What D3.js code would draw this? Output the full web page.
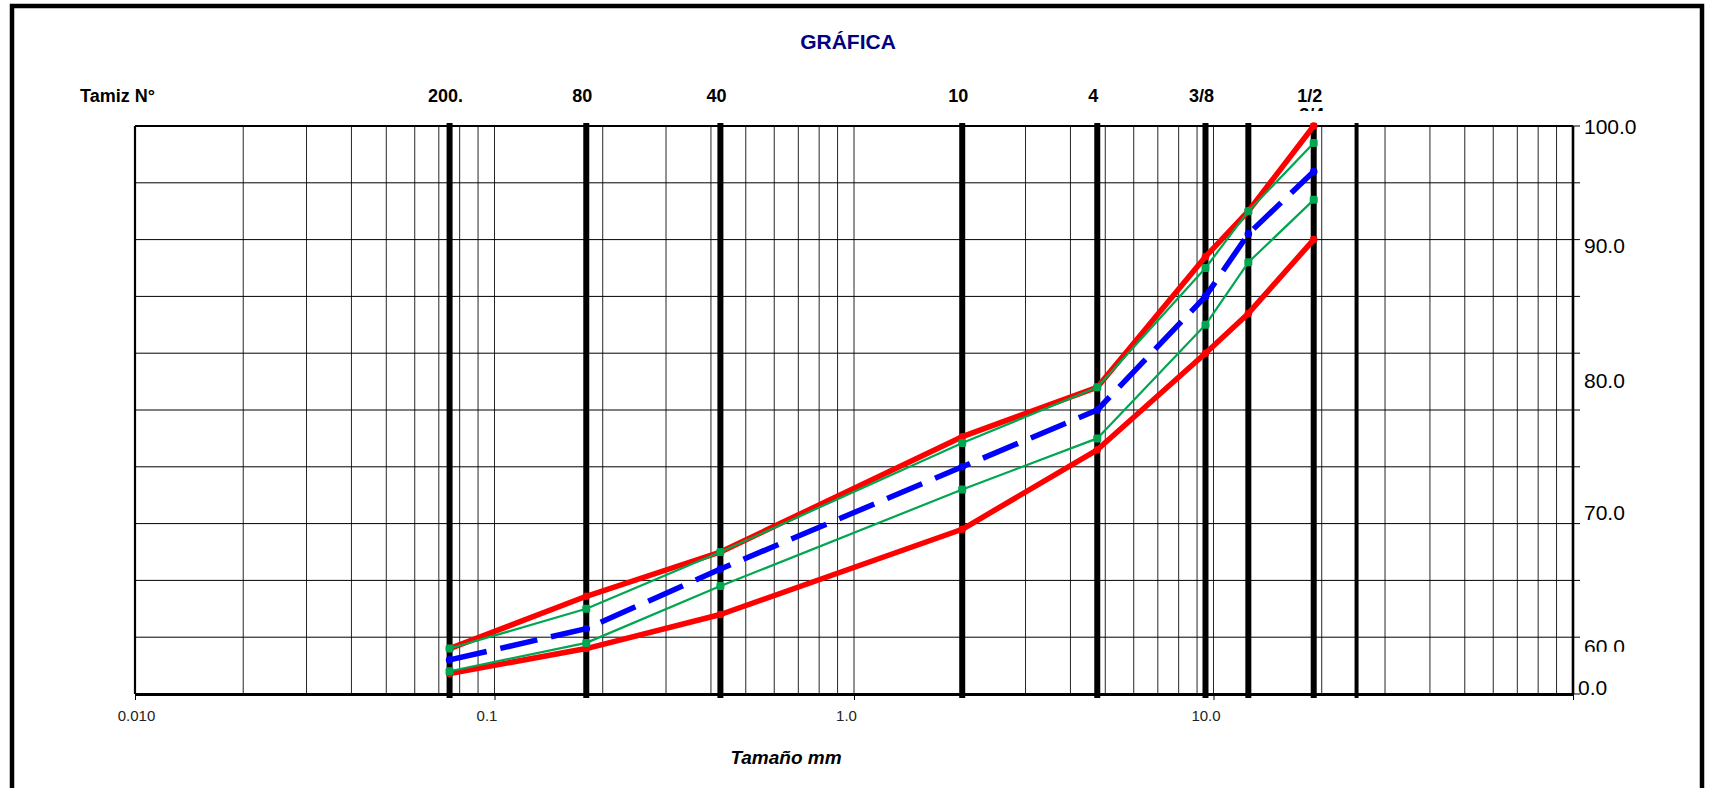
<!DOCTYPE html>
<html>
<head>
<meta charset="utf-8">
<script src="https://cdn.jsdelivr.net/npm/d3@7"></script>
<style>
  html, body { margin: 0; padding: 0; background: #fff; }
  svg { display: block; }
  text { font-family: Arial, "Liberation Sans", sans-serif; }
</style>
</head>
<body>
<svg id="chart" width="1713" height="788"></svg>
<script>
// ---------------- DATA ----------------
const titleText = "GRÁFICA";
const sieveHeader = "Tamiz N°";
const xAxisTitle = "Tamaño mm";

// sieve opening sizes (mm) drawn as heavy vertical lines
const sieveSizes = [0.075, 0.18, 0.425, 2.0, 4.75, 9.5, 12.5, 19.0, 25.0];
// sieve labels along the top and the size each is written over
const sieveLabels = ["200.", "80", "40", "10", "4", "3/8", "1/2"];
const sieveLabelSizes = [0.075, 0.18, 0.425, 2.0, 4.75, 9.5, 19.0];
const hiddenLabel = "3/4";
const hiddenLabelSize = 19.0;

// grading sizes (mm) of every series
const gradSizes = [0.075, 0.18, 0.425, 2.0, 4.75, 9.5, 12.5, 19.0];
const redUpper   = [8, 17.2, 25, 45.3, 54, 77, 85, 100];
const greenUpper = [8, 15, 25, 44.2, 54, 75, 85, 97];
const blueSample = [6, 11.5, 22, 40, 50, 70, 81, 92];
const greenLower = [4, 9, 19, 36, 45, 65, 76, 87];
const redLower   = [3.6, 8, 14, 29, 43, 60, 67, 80];

// bottom axis ticks
const xTickValues = [0.01, 0.1, 1, 10, 100];
const xTickLabels = ["0.010", "0.1", "1.0", "10.0", ""];
// right side labels (as printed) and the level where each one sits
const rightLabels = ["100.0", "90.0", "80.0", "70.0", "60.0", "0.0"];
const rightLabelLevels = [100, 78.9, 55.15, 31.9, 8.45, 1.1];
const yGridValues = d3.range(0, 101, 10);

// ---------------- LAYOUT ----------------
const L = 135, R = 1573, T = 126, B = 694;
const svg = d3.select("#chart");
const x = d3.scaleLog().domain([0.01, 100]).range([L, R]);
const y = d3.scaleLinear().domain([0, 100]).range([B, T]);

const defs = svg.append("defs");
defs.append("clipPath").attr("id", "rclip")
  .selectAll("rect").data([[0, 651.7], [676, 788]]).join("rect")
  .attr("x", 1500).attr("width", 213)
  .attr("y", d => d[0]).attr("height", d => d[1] - d[0]);
defs.append("clipPath").attr("id", "hclip")
  .append("rect").attr("x", 1250).attr("y", 104).attr("width", 120).attr("height", 7);

// outer frame
svg.append("rect").attr("x", 12).attr("y", 6).attr("width", 1690).attr("height", 900)
  .attr("fill", "none").attr("stroke", "#000").attr("stroke-width", 4.5);

// title
svg.append("text").attr("x", 848).attr("y", 48.5).attr("text-anchor", "middle")
  .attr("font-size", 21).attr("font-weight", "bold").attr("fill", "#000080").text(titleText);

// sieve header
svg.append("text").attr("x", 80).attr("y", 101.5)
  .attr("font-size", 18).attr("font-weight", "bold").attr("fill", "#000").text(sieveHeader);

// minor vertical grid (log decades)
const minorVals = [];
[0.01, 0.1, 1, 10].forEach(dec => { for (let k = 1; k <= 9; k++) minorVals.push(dec * k); });
svg.append("g").selectAll("line").data(minorVals.filter(v => v > 0.01)).join("line")
  .attr("x1", d => x(d)).attr("x2", d => x(d)).attr("y1", T).attr("y2", B)
  .attr("stroke", "#000").attr("stroke-width", 1).attr("stroke-opacity", 0.85);

// horizontal grid with outer right ticks
svg.append("g").selectAll("line").data(yGridValues).join("line")
  .attr("x1", L).attr("x2", R + 7).attr("y1", d => y(d)).attr("y2", d => y(d))
  .attr("stroke", "#000").attr("stroke-width", 1);

// plot border
svg.append("line").attr("x1", L).attr("x2", R).attr("y1", T).attr("y2", T).attr("stroke", "#000").attr("stroke-width", 2.2);
svg.append("line").attr("x1", L).attr("x2", L).attr("y1", T).attr("y2", B).attr("stroke", "#000").attr("stroke-width", 2.2);
svg.append("line").attr("x1", R).attr("x2", R).attr("y1", T).attr("y2", B).attr("stroke", "#000").attr("stroke-width", 2.6);

// bottom axis
const xAxis = d3.axisBottom(x).tickValues(xTickValues)
  .tickFormat((d, i) => xTickLabels[i]).tickSizeInner(6).tickSizeOuter(0).tickPadding(10);
const gx = svg.append("g").attr("transform", `translate(0,${B})`).call(xAxis);
gx.select(".domain").attr("stroke", "#000").attr("stroke-width", 3);
gx.selectAll(".tick line").attr("stroke", "#000").attr("stroke-width", 1);
gx.selectAll(".tick text").attr("font-size", 15).attr("fill", "#222")
  .attr("font-family", "Arial, 'Liberation Sans', sans-serif")
  .attr("dx", (d, i) => i === 0 ? 1 : -8);

// heavy sieve lines
svg.append("g").selectAll("line").data(sieveSizes).join("line")
  .attr("x1", d => x(d)).attr("x2", d => x(d)).attr("y1", T - 3).attr("y2", B + 4)
  .attr("stroke", "#000").attr("stroke-width", d => d === 25.0 ? 4 : 6);

// sieve labels
svg.append("g").selectAll("text").data(sieveLabels).join("text")
  .attr("x", (d, i) => x(sieveLabelSizes[i]) - 4).attr("y", 101.5)
  .attr("text-anchor", "middle").attr("font-size", 18).attr("font-weight", "bold")
  .attr("fill", "#000").text(d => d);
svg.append("text").attr("clip-path", "url(#hclip)")
  .attr("x", x(hiddenLabelSize) - 2).attr("y", 121)
  .attr("text-anchor", "middle").attr("font-size", 18).attr("font-weight", "bold")
  .attr("fill", "#000").text(hiddenLabel);

// right labels
svg.append("g").attr("clip-path", "url(#rclip)").selectAll("text").data(rightLabels).join("text")
  .attr("x", (d, i) => i === rightLabels.length - 1 ? R + 5 : R + 11)
  .attr("y", (d, i) => y(rightLabelLevels[i]))
  .attr("dy", "0.36em").attr("font-size", 21).attr("fill", "#000").text(d => d);

// x axis title
svg.append("text").attr("x", 786).attr("y", 764).attr("text-anchor", "middle")
  .attr("font-size", 19).attr("font-weight", "bold").attr("font-style", "italic")
  .attr("fill", "#000").text(xAxisTitle);

// ---------------- SERIES ----------------
const toPts = vals => gradSizes.map((s, i) => ({ s, v: vals[i] }));
const line = d3.line().x(d => x(d.s)).y(d => y(d.v));

const series = [
  { vals: redLower,   color: "#FF0000", w: 5.5, dash: null, marker: "circle" },
  { vals: redUpper,   color: "#FF0000", w: 5.5, dash: null, marker: "circle" },
  { vals: greenLower, color: "#00A650", w: 2.2, dash: null, marker: "square" },
  { vals: greenUpper, color: "#00A650", w: 2.2, dash: null, marker: "square" },
  { vals: blueSample, color: "#0000FF", w: 5.5, dash: "38,14", marker: "circle" }
];

series.forEach(sr => {
  const pts = toPts(sr.vals);
  svg.append("path").datum(pts).attr("d", line)
    .attr("fill", "none").attr("stroke", sr.color).attr("stroke-width", sr.w)
    .attr("stroke-linejoin", "round")
    .attr("stroke-dasharray", sr.dash);
  const g = svg.append("g");
  if (sr.marker === "square") {
    g.selectAll("rect").data(pts).join("rect")
      .attr("x", d => x(d.s) - 4).attr("y", d => y(d.v) - 4)
      .attr("width", 8).attr("height", 8).attr("rx", 2)
      .attr("fill", sr.color);
  } else {
    g.selectAll("circle").data(pts).join("circle")
      .attr("cx", d => x(d.s)).attr("cy", d => y(d.v)).attr("r", 3.8)
      .attr("fill", sr.color);
  }
});
</script>
</body>
</html>
